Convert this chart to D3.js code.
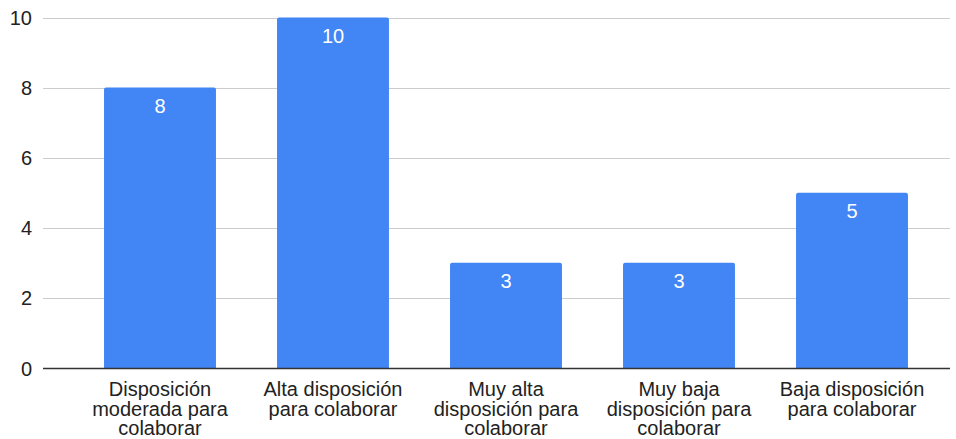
<!DOCTYPE html>
<html>
<head>
<meta charset="utf-8">
<script src="https://cdn.jsdelivr.net/npm/d3@7"></script>
<style>
  html, body { margin: 0; padding: 0; background: #fff; }
  svg { display: block; font-family: Arial, "Liberation Sans", sans-serif; }
</style>
</head>
<body>
<svg id="chart" width="956" height="439"></svg>
<script>
const categories = [
  "Disposición moderada para colaborar",
  "Alta disposición para colaborar",
  "Muy alta disposición para colaborar",
  "Muy baja disposición para colaborar",
  "Baja disposición para colaborar"
];
const categoryLines = [
  ["Disposición", "moderada para", "colaborar"],
  ["Alta disposición", "para colaborar"],
  ["Muy alta", "disposición para", "colaborar"],
  ["Muy baja", "disposición para", "colaborar"],
  ["Baja disposición", "para colaborar"]
];
const values = [8, 10, 3, 3, 5];
const yTicks = [0, 2, 4, 6, 8, 10];

const svg = d3.select("#chart");
const gridLeft = 43, gridRight = 950;
const plotTop = 17.5, plotBottom = 368;
const fontSize = 20;

const x = d3.scaleBand()
  .domain(categories)
  .range([73.5, 938.5])
  .paddingInner(0.353)
  .paddingOuter(0.1765);

const y = d3.scaleLinear().domain([0, 10]).range([plotBottom, plotTop]);

// horizontal gridlines
svg.append("g")
  .selectAll("line")
  .data(yTicks.filter(d => d !== 0))
  .join("line")
  .attr("x1", gridLeft).attr("x2", gridRight)
  .attr("y1", d => Math.round(y(d)) + 0.5).attr("y2", d => Math.round(y(d)) + 0.5)
  .attr("stroke", "#cccccc").attr("stroke-width", 1);

// y tick labels
svg.append("g")
  .selectAll("text")
  .data(yTicks)
  .join("text")
  .attr("x", 32)
  .attr("y", d => y(d) + 7.5)
  .attr("text-anchor", "end")
  .attr("font-size", fontSize)
  .attr("fill", "#222")
  .text(d => d);

// bars with slightly rounded top corners
const r = 2;
svg.append("g")
  .selectAll("path")
  .data(values)
  .join("path")
  .attr("fill", "#4285f4")
  .attr("d", (d, i) => {
    const x0 = x(categories[i]), w = x.bandwidth();
    const yt = y(d), yb = y(0);
    return `M${x0},${yb}V${yt + r}Q${x0},${yt} ${x0 + r},${yt}H${x0 + w - r}Q${x0 + w},${yt} ${x0 + w},${yt + r}V${yb}Z`;
  });

// value labels inside the bars
svg.append("g")
  .selectAll("text")
  .data(values)
  .join("text")
  .attr("x", (d, i) => x(categories[i]) + x.bandwidth() / 2)
  .attr("y", d => y(d) + 25.5)
  .attr("text-anchor", "middle")
  .attr("font-size", fontSize)
  .attr("fill", "#ffffff")
  .text(d => d);

// baseline
svg.append("line")
  .attr("x1", gridLeft).attr("x2", gridRight)
  .attr("y1", Math.round(y(0)) + 0.5).attr("y2", Math.round(y(0)) + 0.5)
  .attr("stroke", "#333333").attr("stroke-width", 1.5);

// category labels, wrapped onto several lines
const catG = svg.append("g")
  .selectAll("text")
  .data(categories)
  .join("text")
  .attr("text-anchor", "middle")
  .attr("font-size", fontSize)
  .attr("fill", "#222");
catG.each(function(c, i) {
  const cx = x(c) + x.bandwidth() / 2;
  d3.select(this).selectAll("tspan")
    .data(categoryLines[i])
    .join("tspan")
    .attr("x", cx)
    .attr("y", (l, j) => 396 + j * 19.5)
    .text(l => l);
});
</script>
</body>
</html>
